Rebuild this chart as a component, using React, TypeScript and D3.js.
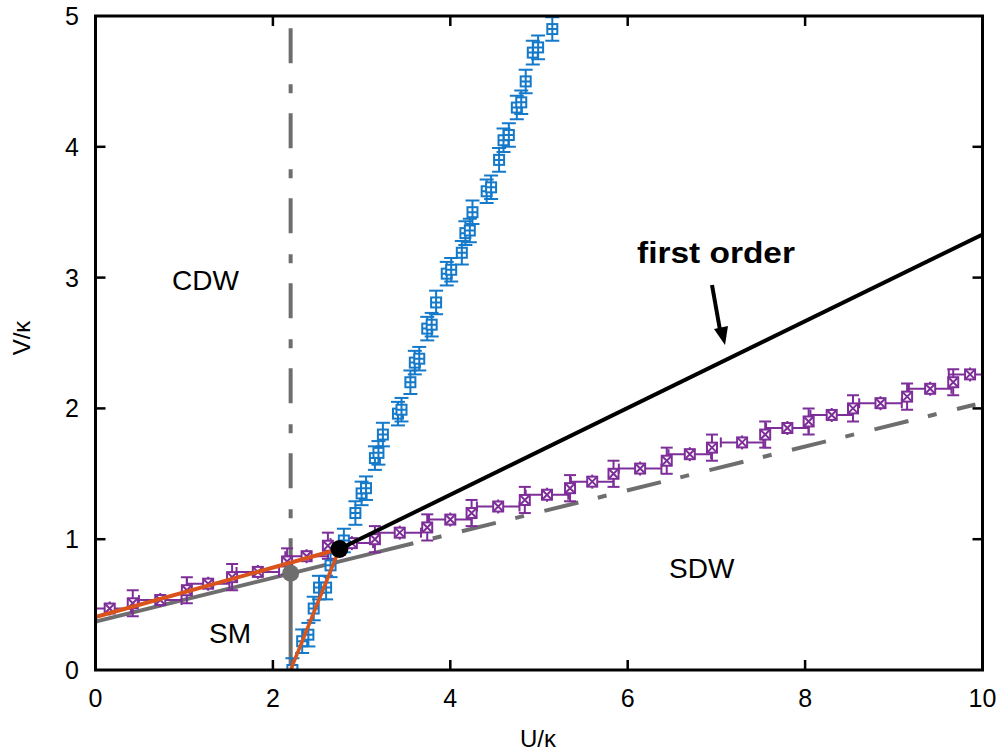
import React from "react";
import * as d3 from "d3";

// Phase diagram in the (U/κ, V/κ) plane
const xTicks = [0, 2, 4, 6, 8, 10];
const yTicks = [0, 1, 2, 3, 4, 5];

// CDW boundary (blue): [U, V]
const cdwU = [
  2.22, 2.33, 2.40, 2.46, 2.52, 2.60, 2.65, 2.80, 2.93, 3.00, 3.05, 3.15, 3.19,
  3.24, 3.41, 3.45, 3.55, 3.60, 3.65, 3.74, 3.79, 3.84, 3.96, 4.01, 4.13, 4.17,
  4.22, 4.25, 4.41, 4.46, 4.55, 4.60, 4.66, 4.75, 4.80, 4.85, 4.93, 4.99, 5.15,
];
const cdwV = [
  0.0, 0.22, 0.27, 0.47, 0.63, 0.63, 0.8, 0.99, 1.2, 1.35, 1.39, 1.62, 1.66,
  1.8, 1.96, 1.99, 2.2, 2.35, 2.38, 2.61, 2.64, 2.81, 3.03, 3.06, 3.19, 3.34,
  3.36, 3.5, 3.66, 3.69, 3.9, 4.05, 4.09, 4.3, 4.34, 4.5, 4.72, 4.76, 4.9,
];
const cdwErr = 0.09;

// SDW boundary (purple), fixed-U scans with error in V
const sdwScanU = [0.42, 1.03, 1.54, 2.16, 2.62, 3.15, 3.74, 4.24, 4.84, 5.35, 5.84, 6.44, 6.95, 7.55, 8.04, 8.54, 9.15, 9.67];
const sdwScanUV = [0.51, 0.61, 0.71, 0.83, 0.95, 1.0, 1.09, 1.2, 1.3, 1.39, 1.5, 1.6, 1.7, 1.8, 1.9, 2.0, 2.09, 2.2];
const sdwScanUErr = 0.1;

// SDW boundary (purple), fixed-V scans with error in U
const sdwScanVU = [0.16, 0.73, 1.27, 1.83, 2.38, 2.89, 3.43, 4.0, 4.54, 5.09, 5.6, 6.14, 6.7, 7.29, 7.8, 8.3, 8.85, 9.41, 9.86];
const sdwScanV = [0.47, 0.535, 0.66, 0.75, 0.87, 0.97, 1.05, 1.15, 1.25, 1.34, 1.44, 1.54, 1.65, 1.74, 1.85, 1.95, 2.04, 2.15, 2.26];
const sdwScanVErr = 0.24;

// Mean-field / analytic lines
const grayDiagSolid: [number, number][] = [[0, 0.37], [3.2, 0.905]];
const grayDiagDash: [number, number][] = [[3.2, 0.905], [9.92, 2.03]];
const grayVertSolid: [number, number][] = [[2.2, 0], [2.2, 0.74]];
const grayVertDash: [number, number][] = [[2.2, 0.74], [2.2, 5]];
const orangeLeft: [number, number][] = [[0, 0.405], [2.75, 0.925]];
const orangeDown: [number, number][] = [[2.75, 0.925], [2.2, 0]];
const firstOrder: [number, number][] = [[2.75, 0.925], [10, 3.33]];
const tricritical: [number, number] = [2.75, 0.925];
const grayPoint: [number, number] = [2.2, 0.74];

const BLUE = "#1479c9";
const PURPLE = "#7d2e98";
const ORANGE = "#d9531b";
const GRAY = "#6e6e6e";
const FONT = "'Liberation Sans', Arial, Helvetica, sans-serif";

export default function App() {
  const x = d3.scaleLinear().domain([0, 10]).range([95.5, 982.5]);
  const y = d3.scaleLinear().domain([0, 5]).range([670, 16]);
  const line = d3
    .line<[number, number]>()
    .x((d) => x(d[0]))
    .y((d) => y(d[1]));

  const dashDot = "35 20 9 21";
  const tickLen = 10;

  const cdwPts = cdwU.map((u, i) => [u, cdwV[i]] as [number, number]);
  const scanUPts = sdwScanU.map((u, i) => [u, sdwScanUV[i]] as [number, number]);
  const scanVPts = sdwScanVU.map((u, i) => [u, sdwScanV[i]] as [number, number]);

  const boxX = (cx: number, cy: number, h: number) =>
    `M${cx - h},${cy - h}L${cx + h},${cy + h}M${cx - h},${cy + h}L${cx + h},${cy - h}`;

  return (
    <svg
      width={1003}
      height={751}
      style={{ position: "absolute", left: 0, top: 0, background: "#fff" }}
      fontFamily={FONT}
    >
      <defs>
        <clipPath id="plot">
          <rect x={x(0)} y={y(5)} width={x(10) - x(0)} height={y(0) - y(5)} />
        </clipPath>
      </defs>
      <rect width={1003} height={751} fill="#fff" />

      <g clipPath="url(#plot)">
        {/* gray boundary lines */}
        <path d={line(grayDiagSolid)!} stroke={GRAY} strokeWidth={4} fill="none" />
        <path d={line(grayDiagDash)!} stroke={GRAY} strokeWidth={4} fill="none" strokeDasharray={dashDot} />
        <path d={line(grayVertSolid)!} stroke={GRAY} strokeWidth={4} fill="none" />
        <path d={line(grayVertDash)!} stroke={GRAY} strokeWidth={4} fill="none" strokeDasharray={dashDot} />

        {/* SDW data, fixed V scans */}
        {scanVPts.map(([u, v], i) => {
          const cx = x(u), cy = y(v);
          const x0 = x(u - sdwScanVErr), x1 = x(u + sdwScanVErr);
          return (
            <g key={"sv" + i} stroke={PURPLE} strokeWidth={2} fill="none">
              <line x1={x0} x2={x1} y1={cy} y2={cy} />
              <line x1={x0} x2={x0} y1={cy - 5} y2={cy + 5} />
              <line x1={x1} x2={x1} y1={cy - 5} y2={cy + 5} />
              <line x1={cx} x2={cx} y1={cy - 7} y2={cy + 7} />
              <rect x={cx - 5} y={cy - 5} width={10} height={10} fill="#fff" />
              <path d={boxX(cx, cy, 5)} />
            </g>
          );
        })}
        {/* SDW data, fixed U scans */}
        {scanUPts.map(([u, v], i) => {
          const cx = x(u), cy = y(v);
          const y0 = y(v - sdwScanUErr), y1 = y(v + sdwScanUErr);
          return (
            <g key={"su" + i} stroke={PURPLE} strokeWidth={2} fill="none">
              <line x1={cx} x2={cx} y1={y0} y2={y1} />
              <line x1={cx - 6} x2={cx + 6} y1={y0} y2={y0} />
              <line x1={cx - 6} x2={cx + 6} y1={y1} y2={y1} />
              <rect x={cx - 5} y={cy - 5} width={10} height={10} fill="#fff" />
              <path d={boxX(cx, cy, 5)} />
            </g>
          );
        })}

        {/* CDW data */}
        {cdwPts.map(([u, v], i) => {
          const cx = x(u), cy = y(v);
          const y0 = y(v - cdwErr), y1 = y(v + cdwErr);
          return (
            <g key={"c" + i} stroke={BLUE} strokeWidth={2} fill="none">
              <line x1={cx} x2={cx} y1={y0} y2={y1} />
              <line x1={cx - 7} x2={cx + 7} y1={y0} y2={y0} />
              <line x1={cx - 7} x2={cx + 7} y1={y1} y2={y1} />
              <rect x={cx - 5} y={cy - 5} width={10} height={10} fill="#fff" />
              <path d={`M${cx},${cy - 5}L${cx},${cy + 5}M${cx - 5},${cy}L${cx + 5},${cy}`} />
            </g>
          );
        })}

        {/* analytic boundaries */}
        <path d={line(orangeLeft)!} stroke={ORANGE} strokeWidth={4} fill="none" />
        <path d={line(orangeDown)!} stroke={ORANGE} strokeWidth={3.5} fill="none" />
        <path d={line(firstOrder)!} stroke="#000" strokeWidth={4} fill="none" />
        <circle cx={x(grayPoint[0])} cy={y(grayPoint[1])} r={8.5} fill={GRAY} />
        <circle cx={x(tricritical[0])} cy={y(tricritical[1])} r={9} fill="#000" />
      </g>

      {/* frame and ticks */}
      <rect x={x(0)} y={y(5)} width={x(10) - x(0)} height={y(0) - y(5)} fill="none" stroke="#000" strokeWidth={3} />
      {xTicks.slice(1, -1).map((t) => (
        <g key={"xt" + t} stroke="#000" strokeWidth={2.5}>
          <line x1={x(t)} x2={x(t)} y1={y(0)} y2={y(0) - tickLen} />
          <line x1={x(t)} x2={x(t)} y1={y(5)} y2={y(5) + tickLen} />
        </g>
      ))}
      {yTicks.slice(1, -1).map((t) => (
        <g key={"yt" + t} stroke="#000" strokeWidth={2.5}>
          <line x1={x(0)} x2={x(0) + tickLen} y1={y(t)} y2={y(t)} />
          <line x1={x(10)} x2={x(10) - tickLen} y1={y(t)} y2={y(t)} />
        </g>
      ))}
      {xTicks.map((t) => (
        <text key={"xl" + t} x={x(t)} y={707} textAnchor="middle" fontSize={25} fill="#000">
          {t}
        </text>
      ))}
      {yTicks.map((t) => (
        <text key={"yl" + t} x={79} y={y(t) + 9} textAnchor="end" fontSize={25} fill="#000">
          {t}
        </text>
      ))}

      {/* axis titles */}
      <text x={538} y={747} textAnchor="middle" fontSize={24} fill="#000">U/κ</text>
      <text transform="translate(30,338) rotate(-90)" textAnchor="middle" fontSize={24} fill="#000">V/κ</text>

      {/* phase labels */}
      <text x={172} y={290} fontSize={28} fill="#000">CDW</text>
      <text x={209} y={643} fontSize={28} fill="#000">SM</text>
      <text x={669} y={578} fontSize={28} fill="#000">SDW</text>
      <text x={637} y={263} fontSize={30} fontWeight="bold" fill="#000" textLength={158} lengthAdjust="spacingAndGlyphs">
        first order
      </text>

      {/* arrow to the first-order line */}
      <line x1={712} y1={285} x2={720} y2={330} stroke="#000" strokeWidth={4} />
      <path d="M725,345 L714,329 L728,326 Z" fill="#000" />
    </svg>
  );
}
